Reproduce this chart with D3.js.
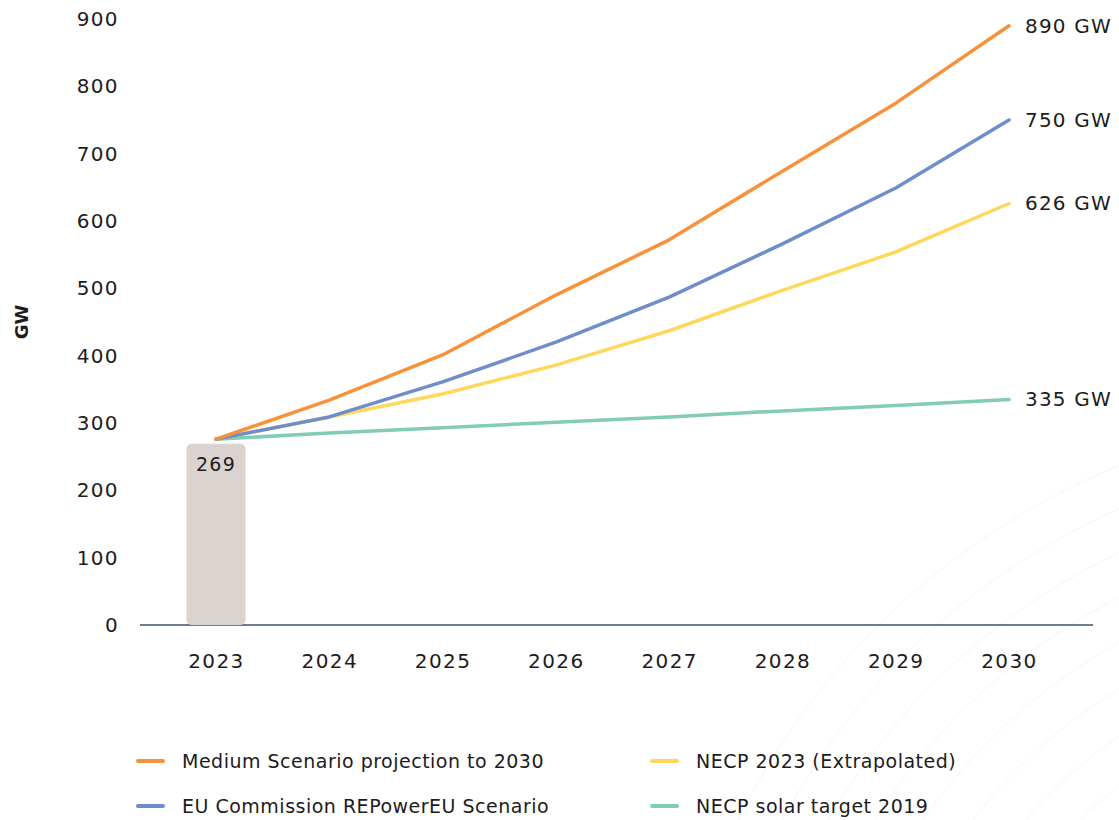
<!DOCTYPE html>
<html>
<head>
<meta charset="utf-8">
<script src="https://cdn.jsdelivr.net/npm/d3@7"></script>
<style>
  html, body { margin: 0; padding: 0; background: #fff; }
  svg { display: block; font-family: "DejaVu Sans", "Liberation Sans", Arial, sans-serif; }
</style>
</head>
<body>
<svg id="chart" width="1119" height="820"></svg>
<script>
// Solar PV capacity outlook, EU (GW)
const years = [2023, 2024, 2025, 2026, 2027, 2028, 2029, 2030];
const installed2023 = 269;
const mediumScenario = [276, 334, 401, 490, 572, 674, 775, 890];
const repowerEU      = [276, 309, 361, 420, 487, 566, 649, 750];
const necp2023       = [276, 309, 343, 386, 437, 497, 554, 626];
const necp2019       = [276, 285, 293, 301, 309, 318, 326, 335];
const yTicks = [0, 100, 200, 300, 400, 500, 600, 700, 800, 900];

const series = [
  { name: "Medium Scenario projection to 2030", values: mediumScenario, color: "#F7923A", end: "890 GW" },
  { name: "EU Commission REPowerEU Scenario",   values: repowerEU,      color: "#6F8DCB", end: "750 GW" },
  { name: "NECP 2023 (Extrapolated)",           values: necp2023,       color: "#FDD85B", end: "626 GW" },
  { name: "NECP solar target 2019",             values: necp2019,       color: "#80CCB6", end: "335 GW" }
];

const svg = d3.select("#chart");
const textColor = "#1E1B1C";
const font = "DejaVu Sans, Liberation Sans, Arial, sans-serif";

// faint decorative arcs in the lower right
const deco = svg.append("g").attr("fill", "none").attr("stroke", "#f5f5f5").attr("stroke-width", 1);
for (let i = 0; i < 9; i++) {
  const r = 420 + i * 40;
  deco.append("circle").attr("cx", 1400).attr("cy", 1150).attr("r", r);
}

const x = d3.scalePoint().domain(years).range([216, 1009]);
const y = d3.scaleLinear().domain([0, 900]).range([625, 19]);

// y axis labels
const yAxis = svg.append("g").attr("transform", "translate(119,0)")
  .call(d3.axisLeft(y).tickValues(yTicks).tickSize(0).tickPadding(0));
yAxis.select(".domain").remove();
yAxis.selectAll("text")
  .attr("font-size", 20).attr("fill", textColor)
  .attr("letter-spacing", 1.4)
  .style("font-family", font);

// x axis
const xAxis = svg.append("g").attr("transform", "translate(0,625)")
  .call(d3.axisBottom(x).tickSize(0).tickPadding(0).tickFormat(d3.format("d")));
xAxis.select(".domain").remove();
xAxis.selectAll("text")
  .attr("font-size", 20).attr("fill", textColor)
  .attr("letter-spacing", 1.4)
  .attr("y", 36).attr("dy", "0.35em")
  .style("font-family", font);

// baseline
svg.append("line")
  .attr("x1", 140).attr("x2", 1093)
  .attr("y1", y(0)).attr("y2", y(0))
  .attr("stroke", "#3E5068").attr("stroke-width", 1.5);

// y axis title
svg.append("text")
  .attr("transform", `translate(22,${y(450)}) rotate(-90)`)
  .attr("text-anchor", "middle").attr("dy", "0.35em")
  .attr("font-size", 18).attr("font-weight", "bold").attr("fill", textColor)
  .text("GW");

// 2023 installed capacity bar
const barW = 59;
svg.append("rect")
  .attr("x", x(2023) - barW / 2)
  .attr("y", y(installed2023))
  .attr("width", barW)
  .attr("height", y(0) - y(installed2023))
  .attr("rx", 5).attr("ry", 5)
  .attr("fill", "#DBD3CF");
svg.append("text")
  .attr("x", x(2023)).attr("y", y(installed2023) + 20)
  .attr("dy", "0.35em")
  .attr("text-anchor", "middle")
  .attr("font-size", 19).attr("letter-spacing", 1.2).attr("fill", textColor)
  .text(installed2023);

// projection lines
const line = d3.line()
  .x((d, i) => x(years[i]))
  .y(d => y(d));

const drawOrder = [3, 2, 1, 0];
drawOrder.forEach(k => {
  const s = series[k];
  svg.append("path")
    .datum(s.values)
    .attr("d", line)
    .attr("fill", "none")
    .attr("stroke", s.color)
    .attr("stroke-width", 3.5)
    .attr("stroke-linecap", "round")
    .attr("stroke-linejoin", "round");
  const last = s.values[s.values.length - 1];
  svg.append("text")
    .attr("x", 1025).attr("y", y(last))
    .attr("dy", "0.35em")
    .attr("font-size", 20).attr("letter-spacing", 1.2).attr("fill", textColor)
    .text(s.end);
});

// legend
const legendPos = [
  { x: 138, y: 761 }, { x: 138, y: 806 },
  { x: 652, y: 761 }, { x: 652, y: 806 }
];
series.forEach((s, i) => {
  const p = legendPos[i];
  const g = svg.append("g").attr("transform", `translate(${p.x},${p.y})`);
  g.append("line")
    .attr("x1", 0).attr("x2", 25).attr("y1", 0).attr("y2", 0)
    .attr("stroke", s.color).attr("stroke-width", 4).attr("stroke-linecap", "round");
  g.append("text")
    .attr("x", 44).attr("y", 0).attr("dy", "0.35em")
    .attr("font-size", 19).attr("letter-spacing", 0.5).attr("fill", textColor)
    .text(s.name);
});
</script>
</body>
</html>
